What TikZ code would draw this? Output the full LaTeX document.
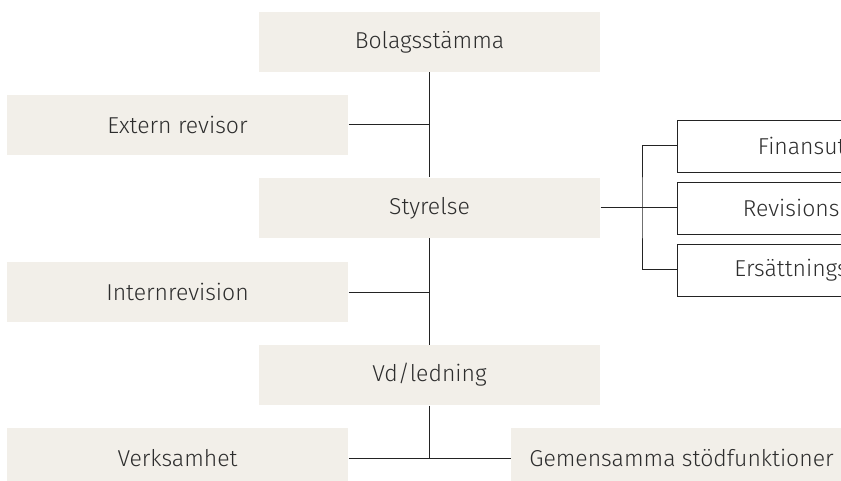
\documentclass[tikz,border=0pt]{standalone}
\usepackage{fontspec}
\setmainfont{Fira Sans Light}
\usepackage{tikz}
\definecolor{boxfill}{RGB}{242,239,233}
\definecolor{boxtext}{RGB}{45,45,45}
\definecolor{boxline}{RGB}{35,35,35}
\tikzstyle{organ}=[inner sep=0pt, text=boxtext, font=\fontsize{23}{27}\selectfont]
\tikzstyle{forgan}=[organ, fill=boxfill, minimum width=341pt, minimum height=60pt]
\tikzstyle{corgan}=[organ, draw=boxline, line width=0.9pt, fill=white, minimum width=300pt, minimum height=52pt]

\begin{document}
\begin{tikzpicture}[x=1pt, y=-1pt, line width=1pt]
        \useasboundingbox (0, 0) rectangle (841, 481);
        \clip (0, 0) rectangle (841, 481);
        \node[forgan]   (Bst) at (429.5, 42) {Bolagsstämma};
        \node[forgan]   (Ext) at (177.5, 125) {Extern revisor};
        \node[forgan]   (Sty) at (429.5, 208) {Styrelse};
        \node[forgan]   (Int) at (177.5, 292) {Internrevision};
        \node[forgan]   (Vd)  at (429.5, 375) {Vd/ledning};
        \node[forgan]   (Verk) at (177.5, 458) {Verksamhet};
        \node[forgan]   (Gem) at (681.5, 458) {Gemensamma stödfunktioner};
        \node[corgan]   (Fin) at (827, 146) {Finansutskott};
        \node[corgan]   (Rev) at (827, 208) {Revisionsutskott};
        \node[corgan]   (Ers) at (827, 270) {Ersättningsutskott};
        \coordinate     (fork) at (642, 208);
        \draw[boxline] (Bst) -- (Sty) -- (Vd);
        \draw[boxline] (Ext) -- (Ext.east -| Bst.south);
        \draw[boxline] (Int) -- (Int.east -| Sty.south);
        \draw[boxline] (Vd) -- (Verk.east -| Vd.south);
        \draw[boxline] (Verk) -- (Gem);
        \draw[boxline] (Sty) -- (Rev);
        \draw[boxline] (Fin.west) -| (fork) |- (Ers.west);
    \end{tikzpicture}
\end{document}
